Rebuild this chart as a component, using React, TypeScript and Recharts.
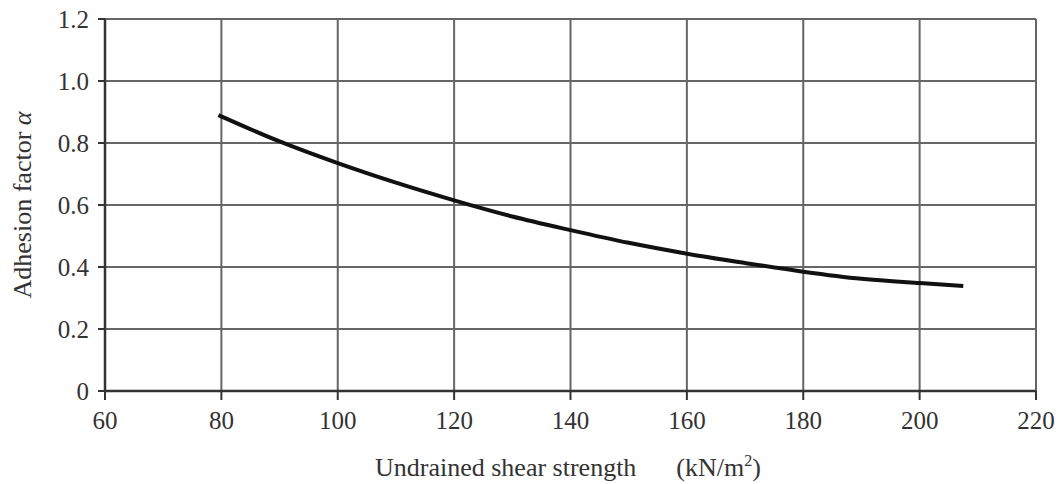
import React from "react";
import { CartesianGrid, Line, LineChart, XAxis, YAxis } from "recharts";

const shearStrength = [79.5, 90, 100, 110, 120, 130, 140, 150, 160, 170, 180, 190, 200, 207.5];
const adhesionFactor = [0.89, 0.805, 0.735, 0.672, 0.615, 0.563, 0.519, 0.478, 0.443, 0.413, 0.385, 0.362, 0.348, 0.339];
const xTicks = [60, 80, 100, 120, 140, 160, 180, 200, 220];
const yTicks = [0, 0.2, 0.4, 0.6, 0.8, 1.0, 1.2];

const data = shearStrength.map((x, i) => ({ x, alpha: adhesionFactor[i] }));

const FONT = "'Liberation Serif', 'DejaVu Serif', serif";
const INK = "#333";
const GRID = "#666";

function XLabel() {
  return (
    <text x={375} y={476} textAnchor="start" fontFamily={FONT} fontSize={26} fill={INK}>
      <tspan>Undrained shear strength</tspan>
      <tspan dx={40}>(kN/m</tspan>
      <tspan dy={-10} fontSize={16}>2</tspan>
      <tspan dy={10}>)</tspan>
    </text>
  );
}

function YLabel() {
  return (
    <text
      x={0}
      y={0}
      transform="translate(31 205) rotate(-90)"
      textAnchor="middle"
      fontFamily={FONT}
      fontSize={26}
      fill={INK}
    >
      Adhesion factor <tspan fontStyle="italic">α</tspan>
    </text>
  );
}

export default function App() {
  return (
    <div style={{ position: "absolute", left: 0, top: 0, background: "#fff" }}>
      <LineChart
        width={1059}
        height={484}
        data={data}
        margin={{ top: 19, right: 23, left: 45, bottom: 0 }}
      >
        <CartesianGrid stroke={GRID} strokeWidth={2} horizontalValues={yTicks} verticalValues={xTicks} />
        <XAxis
          dataKey="x"
          type="number"
          domain={[60, 220]}
          ticks={xTicks}
          height={93}
          tickSize={9}
          tickMargin={11}
          interval={0}
          axisLine={{ stroke: INK, strokeWidth: 2.5 }}
          tickLine={{ stroke: INK, strokeWidth: 2 }}
          tick={{ fill: INK, fontSize: 25, fontFamily: FONT }}
          label={<XLabel />}
        />
        <YAxis
          type="number"
          domain={[0, 1.2]}
          ticks={yTicks}
          width={60}
          tickSize={7}
          tickMargin={9}
          interval={0}
          tickFormatter={(v: number) => (v === 0 ? "0" : v.toFixed(1))}
          axisLine={{ stroke: INK, strokeWidth: 2.5 }}
          tickLine={{ stroke: INK, strokeWidth: 2 }}
          tick={{ fill: INK, fontSize: 25, fontFamily: FONT }}
          label={<YLabel />}
        />
        <Line
          type="monotone"
          dataKey="alpha"
          stroke="#111"
          strokeWidth={4}
          dot={false}
          isAnimationActive={false}
        />
      </LineChart>
    </div>
  );
}
